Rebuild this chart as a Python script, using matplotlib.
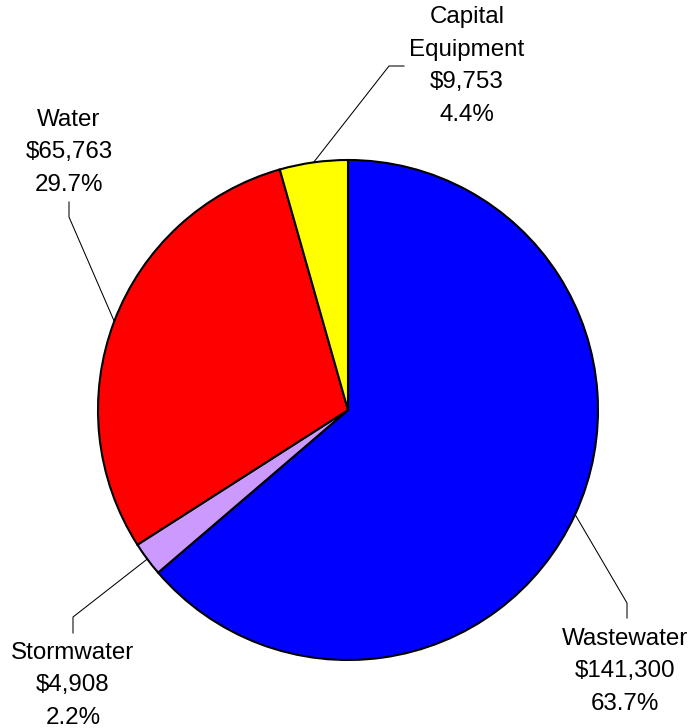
import numpy as np
from matplotlib import pyplot as plt

# budget split by fund
labels = ["Wastewater", "Stormwater", "Water", "Capital\nEquipment"]
amounts = [141300, 4908, 65763, 9753]
colors = ["#0000FF", "#CC99FF", "#FF0000", "#FFFF00"]

# label placement in pixel space: text anchor (x, last baseline) and leader elbow
text_pos = [(625, 710), (73, 724), (69, 191), (467, 121)]
elbow_pos = [[(627, 603), (627, 618)],
             [(73, 617), (73, 633)],
             [(69, 217), (69, 202)],
             [(389, 66), (404, 66)]]

W, H = 696, 728
cx, cy, r = 348, 410, 250

plt.rcParams["font.family"] = ["Liberation Sans", "DejaVu Sans"]

fig = plt.figure(figsize=(W / 100, H / 100), dpi=100)
ax = fig.add_axes([0, 0, 1, 1])

ax.pie(amounts, colors=colors, startangle=90, counterclock=False,
       center=(cx, H - cy), radius=r,
       wedgeprops=dict(edgecolor="black", linewidth=1.5))
ax.set_xlim(0, W)
ax.set_ylim(0, H)
ax.set_aspect("equal")
ax.axis("off")

total = sum(amounts)
start = 90.0
for lab, amt, tp, elbow in zip(labels, amounts, text_pos, elbow_pos):
    span = amt / total * 360
    mid = np.deg2rad(start - span / 2)
    start -= span
    px = cx + r * np.cos(mid)
    py = cy - r * np.sin(mid)
    xs = [px] + [e[0] for e in elbow]
    ys = [H - py] + [H - e[1] for e in elbow]
    ax.plot(xs, ys, color="black", linewidth=0.75)
    txt = f"{lab}\n${amt:,}\n{amt / total * 100:.1f}%"
    ax.text(tp[0], H - tp[1], txt, ha="center", va="baseline",
            fontsize=17.4, linespacing=1.62)

fig.savefig("out.png", dpi=100)
